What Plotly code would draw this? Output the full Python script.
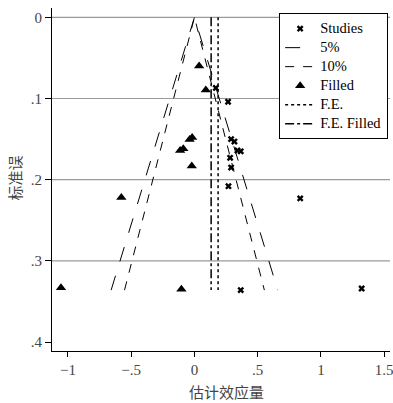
import plotly.graph_objects as go

# Observed studies
study_x = [0.169, 0.266, 0.290, 0.316, 0.340, 0.366, 0.282, 0.290, 0.269, 0.836, 0.366, 1.322]
study_se = [0.087, 0.104, 0.150, 0.153, 0.164, 0.165, 0.173, 0.185, 0.208, 0.223, 0.336, 0.334]

# Filled (imputed) studies
filled_x = [0.037, 0.090, -0.018, -0.038, -0.088, -0.113, -0.021, -0.578, -1.055, -0.103]
filled_se = [0.060, 0.0896, 0.148, 0.1506, 0.162, 0.164, 0.183, 0.222, 0.333, 0.335]

# Pooled estimates
fe = 0.187
fe_filled = 0.132

# Contour z values
z5 = 1.96
z10 = 1.645

x_tickvals = [-1, -0.5, 0, 0.5, 1, 1.5]
x_ticktext = ["\u22121", "\u2212.5", "0", ".5", "1", "1.5"]
y_tickvals = [0, 0.1, 0.2, 0.3, 0.4]
y_ticktext = ["0", ".1", ".2", ".3", ".4"]
grid_vals = [0, 0.1, 0.2, 0.3]

legend_names = ["Studies", "5%", "10%", "Filled", "F.E.", "F.E. Filled"]
x_title = "估计效应量"
y_title = "标准误"

se_max = max(study_se + filled_se)

serif = "Liberation Serif"
cjk = "Noto Sans CJK SC"


def lname(s):
    return "<span style='font-size:14.5px'>" + s + "</span>"


fig = go.Figure()

fig.add_trace(go.Scatter(
    x=study_x, y=study_se, mode="markers", name=lname(legend_names[0]),
    marker=dict(symbol="x", size=6, color="black", line=dict(width=0)),
))
fig.add_trace(go.Scatter(
    x=[-z5 * se_max, 0, z5 * se_max], y=[se_max, 0, se_max], mode="lines", name=lname(legend_names[1]),
    line=dict(color="black", width=1, dash="longdash"),
))
fig.add_trace(go.Scatter(
    x=[-z10 * se_max, 0, z10 * se_max], y=[se_max, 0, se_max], mode="lines", name=lname(legend_names[2]),
    line=dict(color="black", width=1, dash="dash"),
))
fig.add_trace(go.Scatter(
    x=filled_x, y=filled_se, mode="markers", name=lname(legend_names[3]),
    marker=dict(symbol="triangle-up", size=9, color="black"),
))
fig.add_trace(go.Scatter(
    x=[fe, fe], y=[0, se_max], mode="lines", name=lname(legend_names[4]),
    line=dict(color="black", width=1.5, dash="dot"),
))
fig.add_trace(go.Scatter(
    x=[fe_filled, fe_filled], y=[0, se_max], mode="lines", name=lname(legend_names[5]),
    line=dict(color="black", width=1.5, dash="dashdot"),
))

shapes = []
for g in grid_vals:
    shapes.append(dict(type="line", xref="paper", yref="y", x0=0, x1=1, y0=g, y1=g,
                       line=dict(color="#9a9a9a", width=1.2), layer="below"))

annotations = [
    dict(text=x_title, xref="paper", yref="paper", x=0.515, y=-0.117,
         xanchor="center", yanchor="middle", showarrow=False,
         font=dict(family=cjk, size=15, color="#444444")),
    dict(text=y_title, xref="paper", yref="paper", x=-0.11, y=0.505,
         xanchor="center", yanchor="middle", showarrow=False, textangle=-90,
         font=dict(family=cjk, size=15, color="#444444")),
]

fig.update_layout(
    width=393, height=403,
    margin=dict(l=52, r=3, t=8, b=52),
    paper_bgcolor="white", plot_bgcolor="white",
    shapes=shapes,
    annotations=annotations,
    showlegend=True,
    legend=dict(
        x=0.672, y=0.985, xanchor="left", yanchor="top",
        bgcolor="white", bordercolor="black", borderwidth=1,
        font=dict(family=serif, size=12, color="black"),
        itemwidth=30, tracegroupgap=0,
    ),
    xaxis=dict(
        range=[-1.126, 1.546], tickvals=x_tickvals, ticktext=x_ticktext,
        showgrid=False, zeroline=False, showline=True, linecolor="black", linewidth=1.2,
        ticks="outside", ticklen=5, tickcolor="black", automargin=False,
        ticklabeloverflow="allow",
        tickfont=dict(family=serif, size=15, color="#444444"),
    ),
    yaxis=dict(
        range=[0.411, -0.0115], tickvals=y_tickvals, ticktext=y_ticktext,
        showgrid=False, zeroline=False, showline=True, linecolor="black", linewidth=1.2,
        ticks="outside", ticklen=6, tickcolor="black", automargin=False,
        tickfont=dict(family=serif, size=15, color="#444444"),
    ),
)

fig.write_html(
    "out.html",
    config={"displayModeBar": False},
    post_script="document.body.style.margin='0';document.body.style.overflow='hidden';",
)
